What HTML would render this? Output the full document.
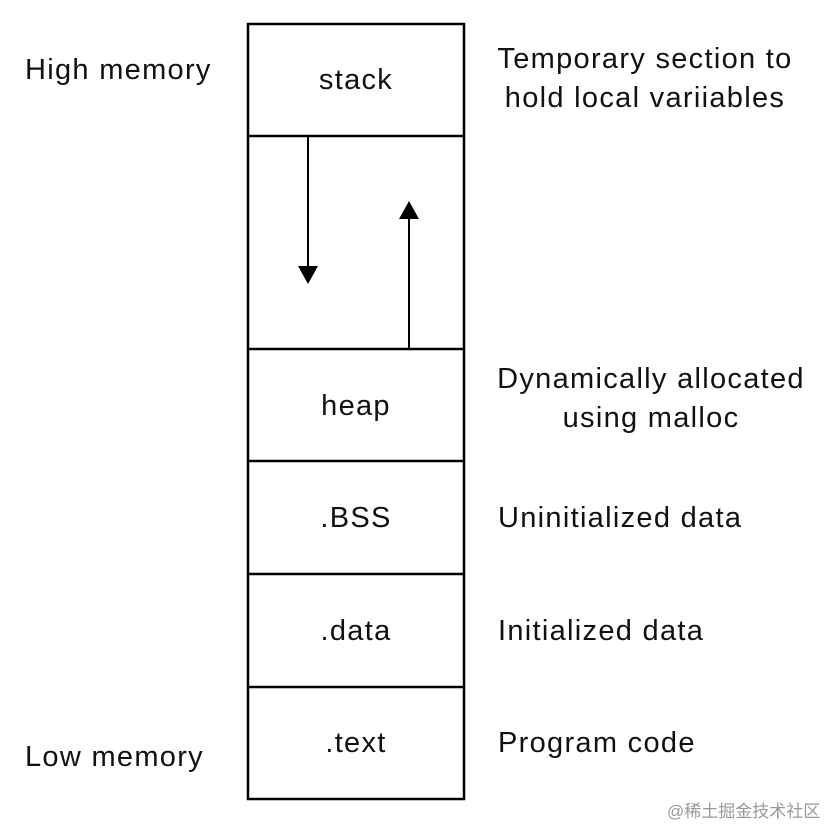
<!DOCTYPE html>
<html><head><style>
body{margin:0;background:#fff;}
svg text{font-family:"Liberation Sans",sans-serif;font-size:29px;fill:#111;letter-spacing:1.3px}
</style></head><body>
<svg width="828" height="827" xmlns="http://www.w3.org/2000/svg">
<rect x="0" y="0" width="828" height="827" fill="#fff"/>
<g stroke="#000" stroke-width="2.5" fill="none">
<rect x="248" y="24" width="216" height="775"/>
<line x1="248" y1="136" x2="464" y2="136"/>
<line x1="248" y1="349" x2="464" y2="349"/>
<line x1="248" y1="461" x2="464" y2="461"/>
<line x1="248" y1="574" x2="464" y2="574"/>
<line x1="248" y1="687" x2="464" y2="687"/>
<line x1="308" y1="136" x2="308" y2="270" stroke-width="2"/>
<line x1="409" y1="349" x2="409" y2="215" stroke-width="2"/>
</g>
<polygon points="298,266 318,266 308,284" fill="#000"/>
<polygon points="399,219 419,219 409,201" fill="#000"/>
<g text-anchor="middle">
<text x="356" y="89">stack</text>
<text x="356" y="415">heap</text>
<text x="356" y="527">.BSS</text>
<text x="356" y="640">.data</text>
<text x="356" y="752">.text</text>
<text x="645" y="68">Temporary section to</text>
<text x="645" y="107">hold local variiables</text>
<text x="651" y="388">Dynamically allocated</text>
<text x="651" y="427">using malloc</text>
</g>
<text x="25" y="79">High memory</text>
<text x="25" y="766">Low memory</text>
<text x="498" y="527">Uninitialized data</text>
<text x="498" y="640">Initialized data</text>
<text x="498" y="752">Program code</text>
<text x="667" y="817" style="font-size:17px;fill:#999;font-family:'Liberation Sans','Noto Sans CJK SC',sans-serif;letter-spacing:0">@稀土掘金技术社区</text>
</svg>
</body></html>
